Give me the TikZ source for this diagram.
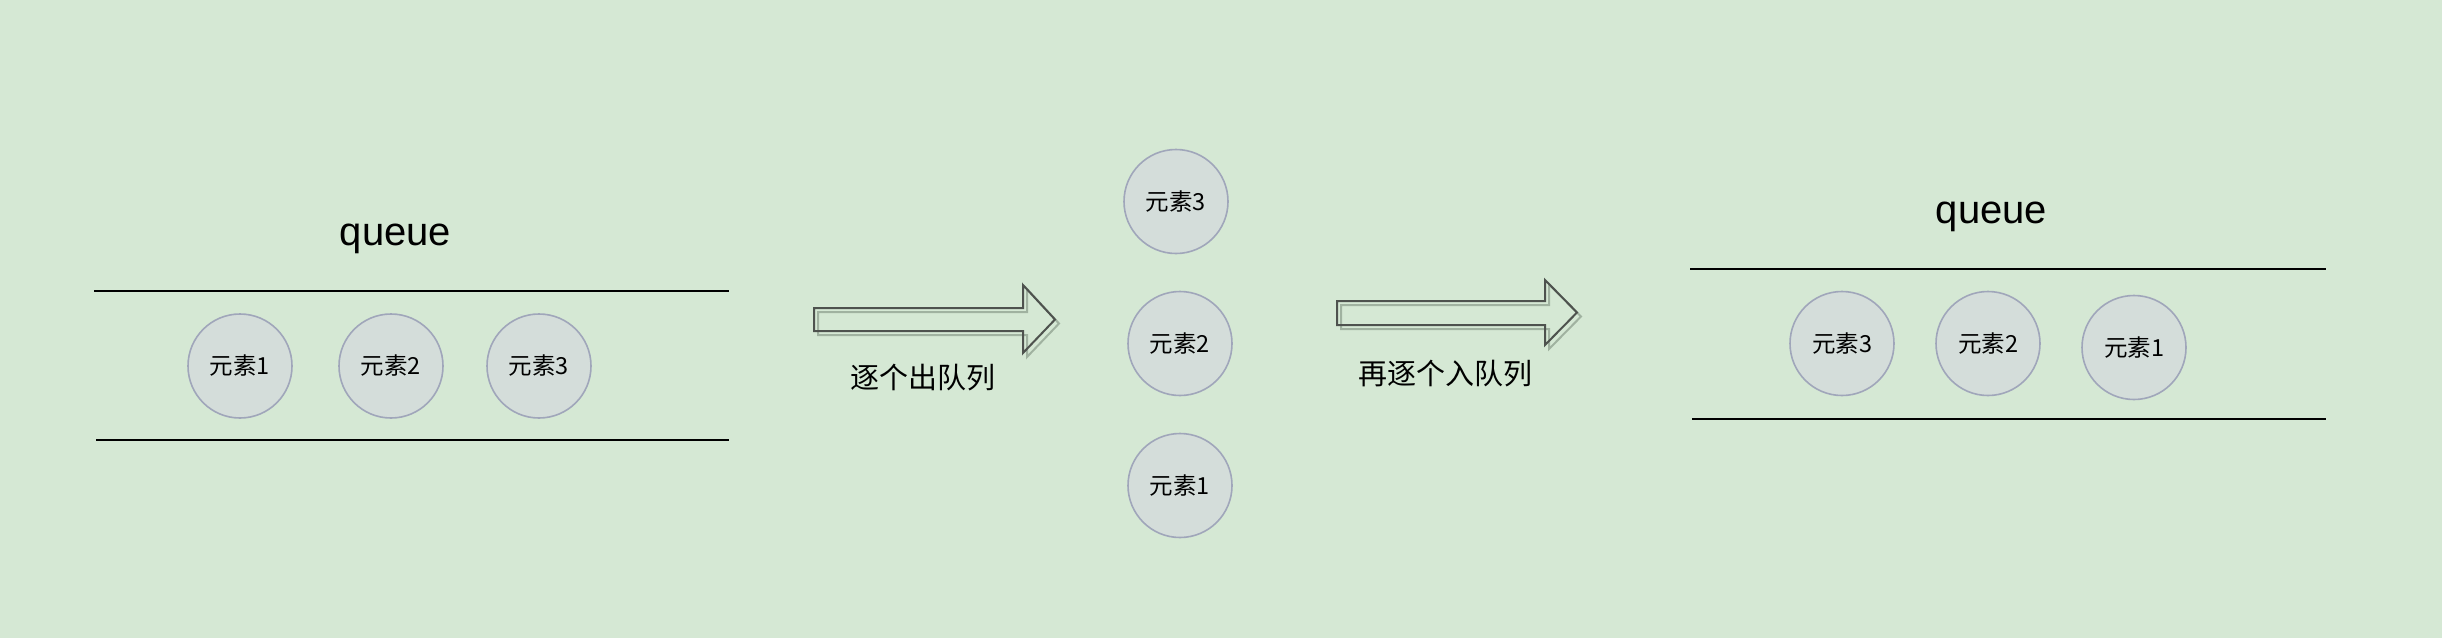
\documentclass[tikz,border=0pt]{standalone}
\usepackage{fontspec}
\setmainfont{Liberation Sans}
\newfontfamily\cjk{Noto Sans CJK SC}
\definecolor{bg}{RGB}{213,232,212}
\definecolor{cfill}{RGB}{212,221,218}
\definecolor{cline}{RGB}{160,166,186}
\definecolor{aline}{RGB}{78,82,78}
\definecolor{ashadow}{RGB}{160,178,160}
\tikzset{
  elem/.style={circle, draw=cline, fill=cfill, line width=1.6pt, minimum size=104pt, inner sep=0pt,
    font=\cjk\fontsize{23.5}{26}\selectfont},
  qtitle/.style={inner sep=0pt, anchor=base, font=\fontsize{40}{46}\selectfont},
  lbl/.style={inner sep=0pt, font=\cjk\fontsize{29}{32}\selectfont},
  qline/.style={line width=2pt, black},
  fatarrow/.style={draw=aline, line width=2pt, line join=miter},
  fatshadow/.style={draw=ashadow, line width=2pt, line join=miter},
}
\begin{document}
\begin{tikzpicture}[x=1pt,y=-1pt]
\fill[bg] (0,0) rectangle (2442,638);
\useasboundingbox (0,0) rectangle (2442,638);

% left queue
\node[qtitle] (q1) at (395.5,245) {queue};
\coordinate (l1a) at (94,291); \coordinate (l1b) at (729,291);
\coordinate (l2a) at (96,440); \coordinate (l2b) at (729,440);
\draw[qline] (l1a) -- (l1b);
\draw[qline] (l2a) -- (l2b);
\node[elem] (a1) at (240,366) {元素1};
\node[elem] (a2) at (391,366) {元素2};
\node[elem] (a3) at (539,366) {元素3};

% arrow 1
\draw[fatshadow] (818,312) -- (1027,312) -- (1027,289) -- (1059,323.5) -- (1027,357) -- (1027,335) -- (818,335) -- cycle;
\draw[fatarrow] (814,308) -- (1023,308) -- (1023,285) -- (1055,319.5) -- (1023,353) -- (1023,331) -- (814,331) -- cycle;
\node[lbl] (t1) at (923,378) {逐个出队列};

% middle
\node[elem] (m3) at (1176,201.5) {元素3};
\node[elem] (m2) at (1180,343.5) {元素2};
\node[elem] (m1) at (1180,485.5) {元素1};

% arrow 2
\draw[fatshadow] (1341,305) -- (1549,305) -- (1549,284) -- (1581,316.5) -- (1549,349) -- (1549,329) -- (1341,329) -- cycle;
\draw[fatarrow] (1337,301) -- (1545,301) -- (1545,280) -- (1577,312.5) -- (1545,345) -- (1545,325) -- (1337,325) -- cycle;
\node[lbl] (t2) at (1445,374) {再逐个入队列};

% right queue
\node[qtitle] (q2) at (1991.5,223) {queue};
\coordinate (r1a) at (1690,269); \coordinate (r1b) at (2326,269);
\coordinate (r2a) at (1692,419); \coordinate (r2b) at (2326,419);
\draw[qline] (r1a) -- (r1b);
\draw[qline] (r2a) -- (r2b);
\node[elem] (b3) at (1842,343.5) {元素3};
\node[elem] (b2) at (1988,343.5) {元素2};
\node[elem] (b1) at (2134,347.5) {元素1};
\end{tikzpicture}
\end{document}
